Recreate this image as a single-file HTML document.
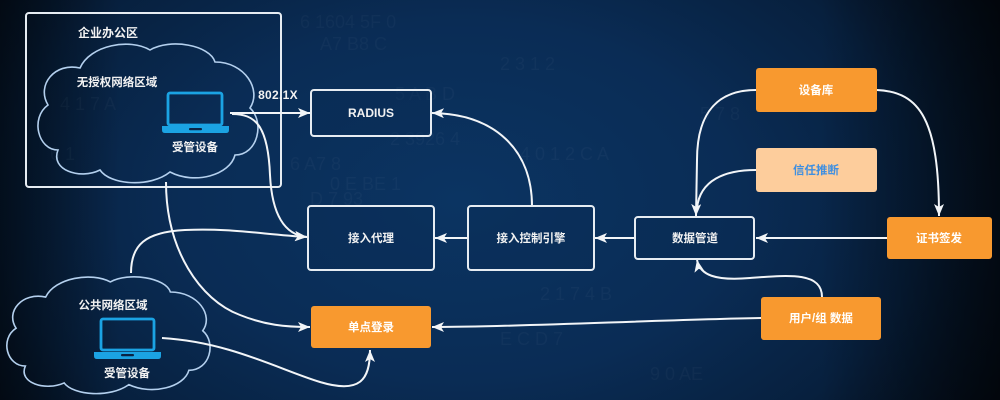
<!DOCTYPE html>
<html><head><meta charset="utf-8">
<style>
html,body{margin:0;padding:0;width:1000px;height:400px;overflow:hidden;}
body{background:#071a33;}
svg{display:block;}
text{font-family:"Liberation Sans","Noto Sans CJK SC",sans-serif;}
</style></head>
<body>
<svg width="1000" height="400" viewBox="0 0 1000 400" xmlns="http://www.w3.org/2000/svg">
<defs>
  <radialGradient id="bg" cx="0.46" cy="0.5" r="0.62" gradientTransform="translate(0.46 0.5) scale(1 1.6) translate(-0.46 -0.5)">
    <stop offset="0" stop-color="#0b3462"/>
    <stop offset="0.45" stop-color="#0a2c55"/>
    <stop offset="0.75" stop-color="#07203e"/>
    <stop offset="1" stop-color="#050f1d"/>
  </radialGradient>
  <linearGradient id="rfade" x1="0" y1="0" x2="1" y2="0">
    <stop offset="0" stop-color="#000" stop-opacity="0.55"/>
    <stop offset="0.12" stop-color="#000" stop-opacity="0"/>
    <stop offset="0.82" stop-color="#000" stop-opacity="0"/>
    <stop offset="1" stop-color="#000" stop-opacity="0.6"/>
  </linearGradient>
  <marker id="ah" markerUnits="userSpaceOnUse" markerWidth="14" markerHeight="12" refX="12" refY="5" orient="auto">
    <path d="M0,0 L12,5 L0,10 L3,5 z" fill="#f2f5f8"/>
  </marker>
</defs>
<rect x="0" y="0" width="1000" height="400" fill="url(#bg)"/>
<rect x="0" y="0" width="1000" height="400" fill="url(#rfade)"/>

<!-- faint background hex chars -->
<g fill="#ffffff" fill-opacity="0.03" font-size="18" font-family="Liberation Sans, sans-serif">
  <text x="300" y="28">6  1604  5F  0</text>
  <text x="320" y="50">A7  B8  C</text>
  <text x="500" y="70">2  3   1  2</text>
  <text x="395" y="100">5  A  B  D</text>
  <text x="390" y="145">2  3926  4</text>
  <text x="290" y="170">6  A7   8</text>
  <text x="330" y="190">0  E  BE  1</text>
  <text x="310" y="205">D  7  93</text>
  <text x="520" y="160">4  0  1 2 C  A</text>
  <text x="540" y="300">2  1  7  4  B</text>
  <text x="500" y="345">E  C  D  7</text>
  <text x="650" y="380">9  0  AE</text>
  <text x="60" y="110">4  1  7  A</text>
  <text x="50" y="160">6  1</text>
  <text x="700" y="120">5  7  8</text>
</g>

<!-- enterprise box -->
<rect x="26" y="13" width="255" height="174" rx="3" fill="none" stroke="#e6ecf2" stroke-width="2"/>
<text x="108" y="37" font-size="12" font-weight="bold" fill="#f2f2f2" text-anchor="middle">企业办公区</text>

<!-- clouds -->
<path d="M58,150 C38,150 30,118 48,105 C36,85 55,62 80,68 C90,45 130,38 150,50 C170,38 210,45 215,62 C245,62 262,90 250,108 C265,122 258,155 235,155 C230,175 195,185 170,172 C150,188 110,185 100,170 C80,180 50,170 58,150 Z" fill="none" stroke="#b4d0ee" stroke-width="1.6"/>
<path d="M58,150 C38,150 30,118 48,105 C36,85 55,62 80,68 C90,45 130,38 150,50 C170,38 210,45 215,62 C245,62 262,90 250,108 C265,122 258,155 235,155 C230,175 195,185 170,172 C150,188 110,185 100,170 C80,180 50,170 58,150 Z" fill="none" stroke="#b4d0ee" stroke-width="1.6" vector-effect="non-scaling-stroke" transform="translate(5,276) scale(0.924,0.842) translate(-36,-43)"/>

<text x="117" y="86" font-size="11.5" font-weight="bold" fill="#f2f2f2" text-anchor="middle">无授权网络区域</text>
<text x="113" y="309" font-size="11.5" font-weight="bold" fill="#f2f2f2" text-anchor="middle">公共网络区域</text>

<!-- laptops -->
<g fill="none" stroke="#1ba3e3" stroke-width="2.8">
  <rect x="168" y="93" width="54" height="32" rx="2"/>
  <rect x="101" y="319" width="53" height="31" rx="2"/>
</g>
<g fill="#1ba3e3">
  <path d="M162,126 L229,126 L229,130 Q229,133 226,133 L165,133 Q162,133 162,130 Z"/>
  <path d="M94,352 L161,352 L161,356 Q161,359 158,359 L97,359 Q94,359 94,356 Z"/>
</g>
<g fill="#0a2345">
  <rect x="189" y="128" width="13" height="2.2" rx="1"/>
  <rect x="121" y="354" width="13" height="2.2" rx="1"/>
</g>
<text x="195" y="151" font-size="11.5" font-weight="bold" fill="#f2f2f2" text-anchor="middle">受管设备</text>
<text x="127" y="377" font-size="11.5" font-weight="bold" fill="#f2f2f2" text-anchor="middle">受管设备</text>

<!-- connectors -->
<g fill="none" stroke="#f2f5f8" stroke-width="2" marker-end="url(#ah)">
  <path d="M230,113 L310,113"/>
  <path d="M232,114 C255,114 268,125 270,175 C272,215 285,235 307,237"/>
  <path d="M166,182 C166,250 200,300 240,315 C265,325 285,327 310,327"/>
  <path d="M131,273 C131,245 145,232 185,230 C230,228 260,234 307,237"/>
  <path d="M162,338 C230,342 280,370 320,382 C360,394 370,380 370,350"/>
  <path d="M532,206 C532,150 495,114 432,113"/>
  <path d="M468,238 L435,238"/>
  <path d="M635,238 L595,238"/>
  <path d="M887,238 L756,238"/>
  <path d="M756,90 C720,90 697,110 697,160 L696,216"/>
  <path d="M877,90 C920,92 939,120 939,216"/>
  <path d="M822,297 C822,272 790,275 750,278 C715,281 700,275 697,260"/>
  <path d="M761,318 C650,320 520,327 432,327"/>
</g>
<path d="M756,170 C725,170 700,180 697,208" fill="none" stroke="#f2f5f8" stroke-width="2"/>

<text x="278" y="99" font-size="12" font-weight="bold" fill="#f2f2f2" text-anchor="middle" letter-spacing="0.3">802.1X</text>

<!-- outlined boxes -->
<g fill="#0a2b53" fill-opacity="0.35" stroke="#e6ecf2" stroke-width="2">
  <rect x="311" y="90" width="120" height="46" rx="3"/>
  <rect x="308" y="206" width="126" height="64" rx="3"/>
  <rect x="468" y="206" width="126" height="64" rx="3"/>
  <rect x="635" y="217" width="119" height="42" rx="3"/>
</g>
<g font-size="11.5" font-weight="bold" fill="#f2f2f2" text-anchor="middle">
  <text x="371" y="117" font-size="12">RADIUS</text>
  <text x="371" y="242">接入代理</text>
  <text x="531" y="242">接入控制引擎</text>
  <text x="695" y="242">数据管道</text>
</g>

<!-- orange boxes -->
<g fill="#f8992f">
  <rect x="311" y="306" width="120" height="42" rx="3"/>
  <rect x="756" y="68" width="121" height="44" rx="3"/>
  <rect x="887" y="217" width="105" height="42" rx="3"/>
  <rect x="761" y="297" width="120" height="43" rx="3"/>
</g>
<rect x="756" y="148" width="121" height="44" rx="3" fill="#fdcd9c"/>
<g font-size="11.5" font-weight="bold" fill="#ffffff" text-anchor="middle">
  <text x="371" y="331">单点登录</text>
  <text x="816" y="94">设备库</text>
  <text x="939" y="242">证书签发</text>
  <text x="821" y="322">用户/组 数据</text>
</g>
<text x="816" y="174" font-size="11.5" font-weight="bold" fill="#3f8fe0" text-anchor="middle">信任推断</text>
</svg>
</body></html>
